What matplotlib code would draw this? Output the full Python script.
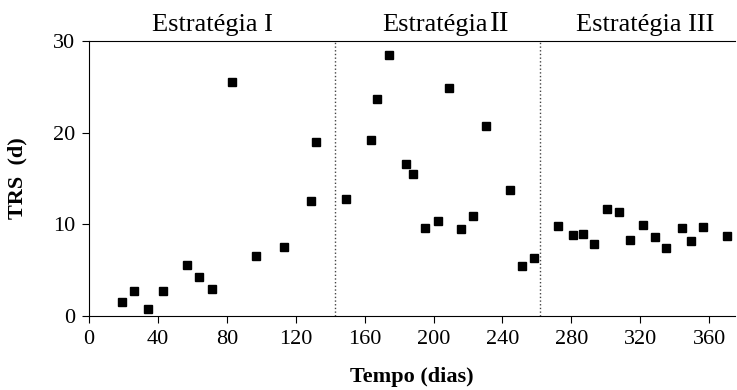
import matplotlib.pyplot as plt

plt.rcParams['font.family'] = ['Liberation Serif', 'DejaVu Serif']

# Estratégia I
dias_1 = [19.3, 26.3, 34.5, 43.2, 57.1, 64.1, 71.2, 83.2, 97.2, 113.4, 129.1, 132.0]
trs_1 = [1.56, 2.69, 0.73, 2.69, 5.53, 4.25, 2.91, 25.5, 6.54, 7.52, 12.54, 18.94]

# Estratégia II
dias_2 = [149.4, 163.4, 167.4, 174.4, 184.2, 188.3, 195.3, 202.3, 209.2, 216.2,
          223.1, 230.4, 244.5, 251.6, 258.6]
trs_2 = [12.76, 19.19, 23.66, 28.46, 16.54, 15.45, 9.56, 10.33, 24.83, 9.45,
         10.9, 20.7, 13.7, 5.45, 6.32]

# Estratégia III
dias_3 = [272.5, 281.2, 286.5, 293.4, 300.4, 307.4, 314.3, 321.3, 328.3, 335.2,
          344.5, 349.7, 356.7, 370.6]
trs_3 = [9.78, 8.8, 8.9, 7.88, 11.63, 11.3, 8.28, 9.89, 8.65, 7.42,
         9.56, 8.21, 9.67, 8.69]

limites = [143, 262]

fig = plt.figure(figsize=(7.37, 3.9), dpi=100)
ax = fig.add_axes([0.1208, 0.19, 0.8765, 0.705])

for x, y in [(dias_1, trs_1), (dias_2, trs_2), (dias_3, trs_3)]:
    ax.plot(x, y, 's', color='black', ms=6, mec='black')

for x in limites:
    ax.axvline(x, color='#444444', ls=':', lw=1.0)

# rótulos das estratégias acima do gráfico
tr = ax.get_xaxis_transform()
ax.text(71.5, 1.036, 'Estratégia I', transform=tr, ha='center', va='baseline', fontsize=19)
ax.text(231.5, 1.036, 'Estratégia', transform=tr, ha='right', va='baseline', fontsize=19)
ax.text(233, 1.036, 'II', transform=tr, ha='left', va='baseline', fontsize=21)
ax.text(323, 1.036, 'Estratégia III', transform=tr, ha='center', va='baseline', fontsize=19)

ax.set_xlim(0, 375)
ax.set_ylim(0, 30)
ax.set_xticks(range(0, 361, 40))
ax.set_yticks([0, 10, 20, 30])
ax.tick_params(labelsize=16, direction='out', length=5, pad=5)
ax.spines['right'].set_visible(False)
ax.set_xlabel('Tempo (dias)', fontsize=16, fontweight='bold', labelpad=13)
ax.set_ylabel('TRS  (d)', fontsize=16, fontweight='bold', labelpad=18)

plt.savefig('out.png', dpi=100)
